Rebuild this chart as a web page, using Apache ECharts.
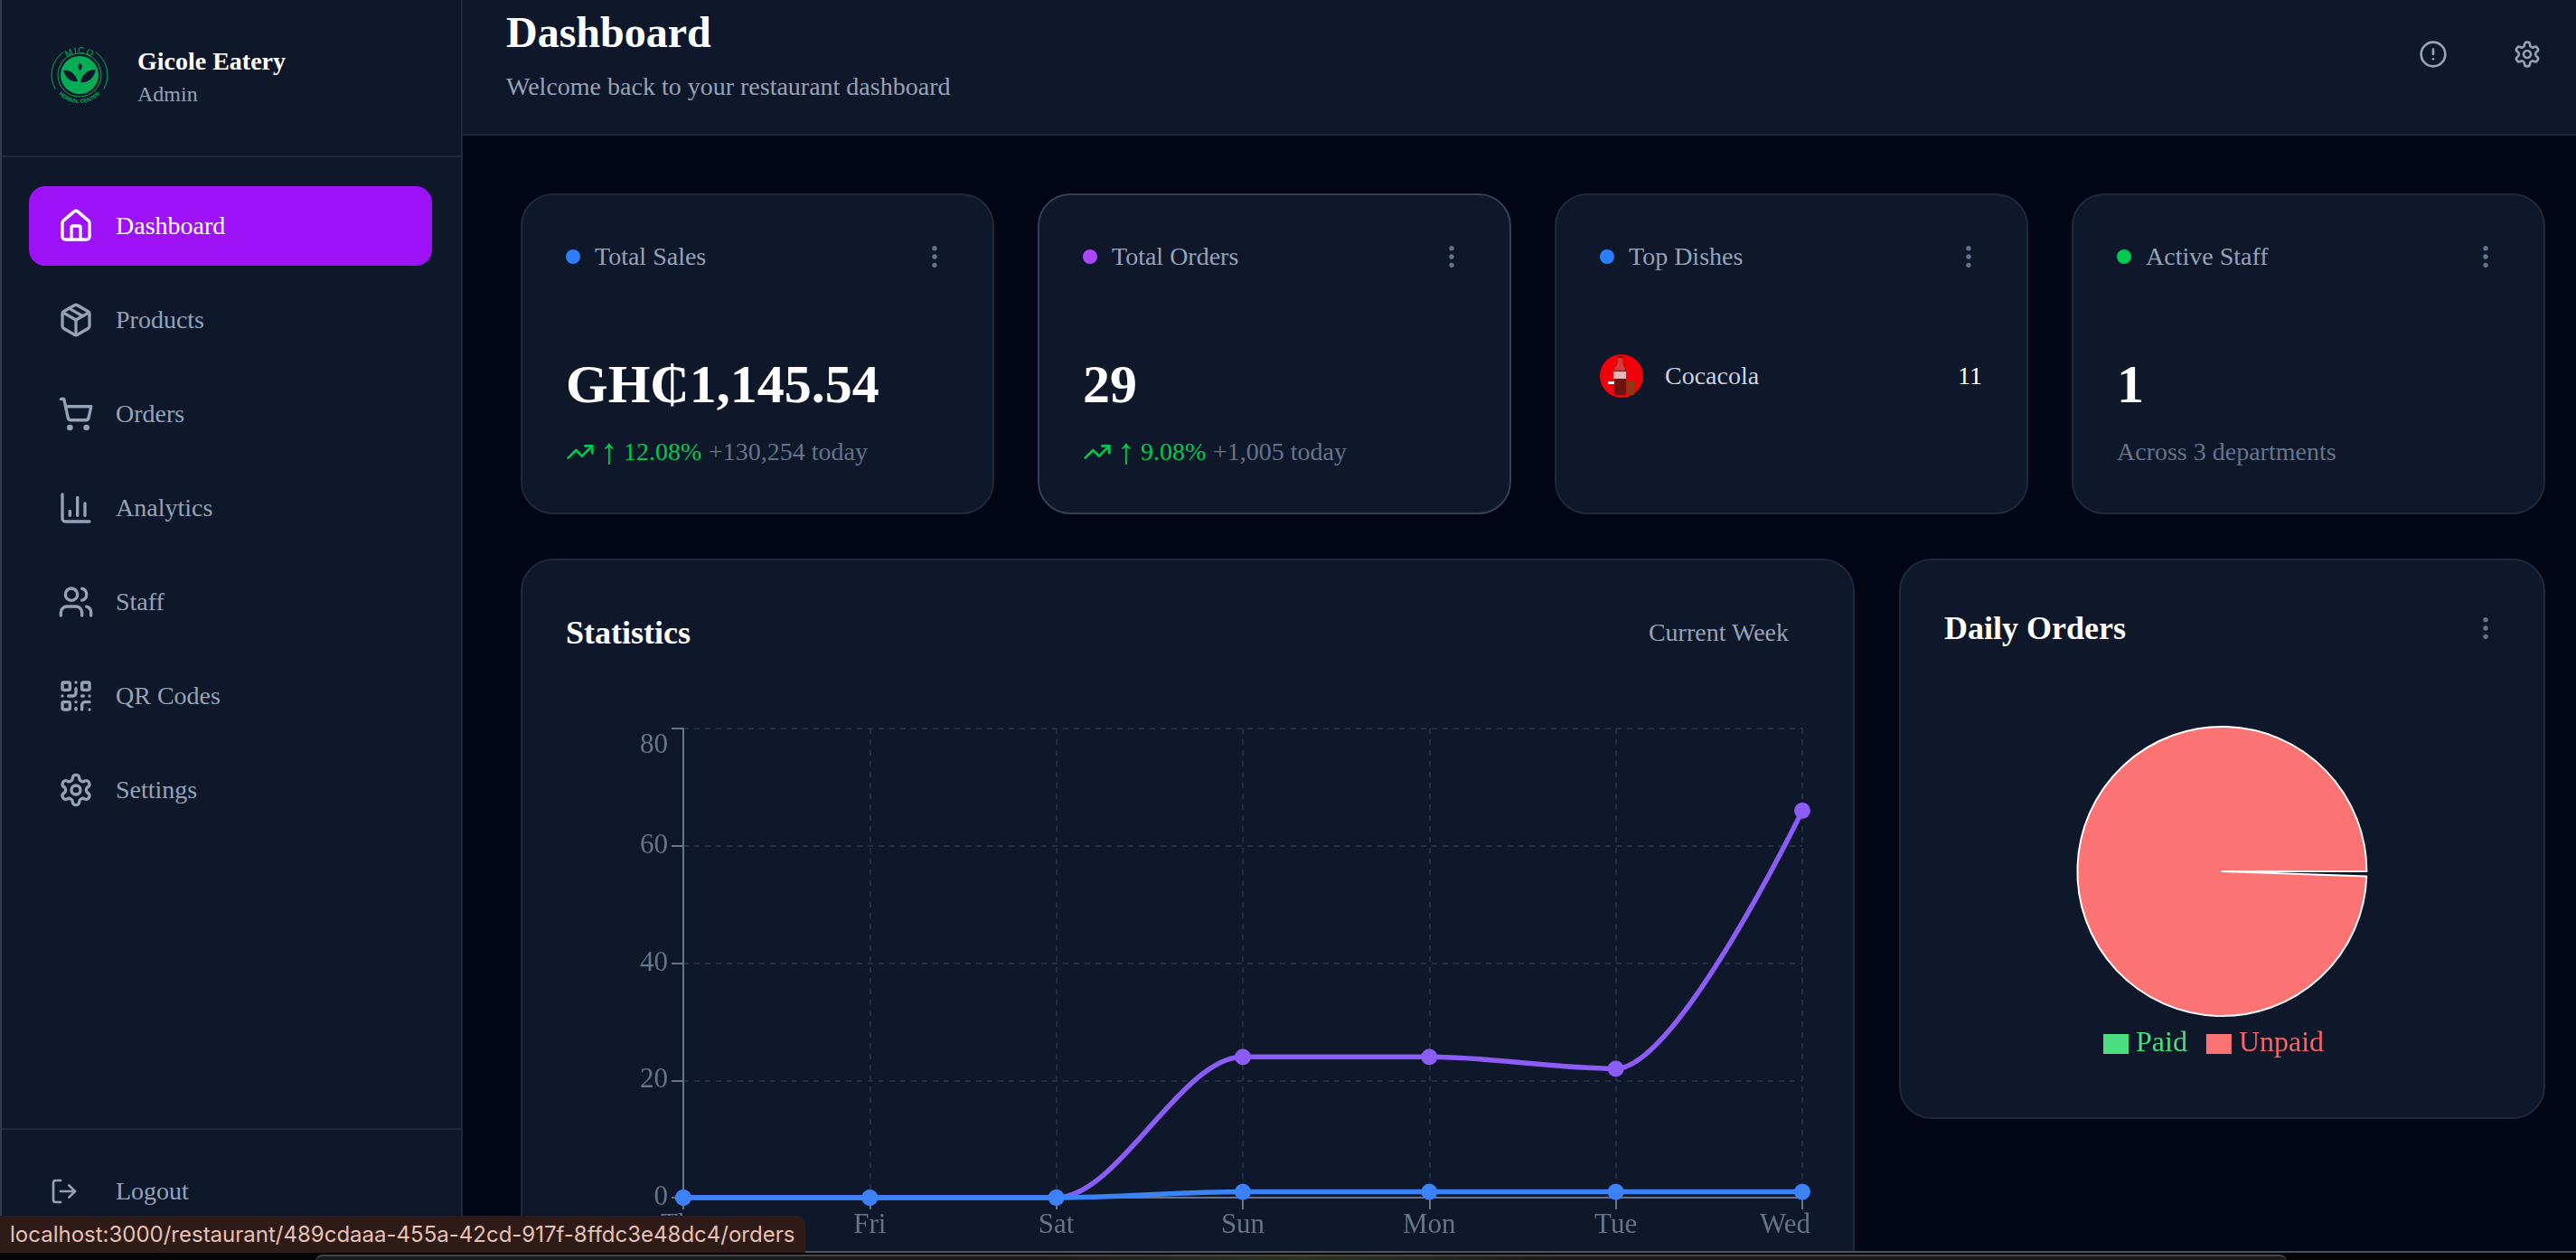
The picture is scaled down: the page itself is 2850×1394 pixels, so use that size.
<!DOCTYPE html>
<html>
<head>
<meta charset="utf-8">
<title>Dashboard</title>
<script src="https://cdn.jsdelivr.net/npm/echarts@6/dist/echarts.min.js"></script>
<style>
html, body { margin: 0; padding: 0; background: #050505; }
#page { position: absolute; left: 0; top: 0; width: 2850px; height: 1394px; overflow: hidden; background: #010516; font-family: 'Liberation Serif', serif; }
.box { position: absolute; box-sizing: border-box; }
.t { position: absolute; line-height: 0; white-space: nowrap; }
.ic { position: absolute; fill: none; stroke: currentColor; stroke-linecap: round; stroke-linejoin: round; stroke-width: 2; }
.side { left: 0; top: 0; width: 512px; height: 1394px; background: #0f172a; border-left: 2px solid #2d3b50; border-right: 2px solid #1e293b; }
.rule { position: absolute; left: 2px; width: 508px; height: 2px; background: #1e293b; }
.head { left: 512px; top: 0; width: 2338px; height: 150px; background: #0f172a; border-bottom: 2px solid #1e293b; }
.card { background: #0f172a; border: 2px solid #1e293b; border-radius: 36px; }
.nav { font-size: 28px; color: #94a3b8; left: 128px; }
.nav-ic { left: 64px; width: 40px; height: 40px; color: #94a3b8; }
.label { left: 80px; top: 68px; font-size: 28px; color: #94a3b8; }
.dot { position: absolute; left: 48px; top: 60px; width: 16px; height: 16px; border-radius: 50%; }
.kebab { left: 440px; top: 52px; width: 32px; height: 32px; color: #64748b; }
.big { left: 48px; top: 209px; font-size: 60px; font-weight: bold; color: #fff; }
.sub { top: 284px; font-size: 28px; }
.arrow { left: 86px; top: 284px; font-size: 40px; }
.trend { left: 48px; top: 268px; width: 32px; height: 32px; }
.green { color: #00c950; }
.gray { color: #64748b; }
</style>
</head>
<body>
<svg width="0" height="0" style="position:absolute">
  <symbol id="i-home" viewBox="0 0 24 24"><path d="M15 21v-8a1 1 0 0 0-1-1h-4a1 1 0 0 0-1 1v8"/><path d="M3 10a2 2 0 0 1 .709-1.528l7-5.999a2 2 0 0 1 2.582 0l7 5.999A2 2 0 0 1 21 10v9a2 2 0 0 1-2 2H5a2 2 0 0 1-2-2z"/></symbol>
  <symbol id="i-box" viewBox="0 0 24 24"><path d="M11 21.73a2 2 0 0 0 2 0l7-4A2 2 0 0 0 21 16V8a2 2 0 0 0-1-1.73l-7-4a2 2 0 0 0-2 0l-7 4A2 2 0 0 0 3 8v8a2 2 0 0 0 1 1.73z"/><path d="M12 22V12"/><path d="m3.3 7 8.7 5 8.7-5"/><path d="m7.5 4.27 9 5.15"/></symbol>
  <symbol id="i-cart" viewBox="0 0 24 24"><circle cx="8" cy="21" r="1"/><circle cx="19" cy="21" r="1"/><path d="M2.05 2.05h2l2.66 12.42a2 2 0 0 0 2 1.58h9.78a2 2 0 0 0 1.95-1.57l1.65-7.43H5.12"/></symbol>
  <symbol id="i-bars" viewBox="0 0 24 24"><path d="M3 3v16a2 2 0 0 0 2 2h16"/><path d="M18 17V9"/><path d="M13 17V5"/><path d="M8 17v-3"/></symbol>
  <symbol id="i-users" viewBox="0 0 24 24"><path d="M16 21v-2a4 4 0 0 0-4-4H6a4 4 0 0 0-4 4v2"/><circle cx="9" cy="7" r="4"/><path d="M22 21v-2a4 4 0 0 0-3-3.87"/><path d="M16 3.13a4 4 0 0 1 0 7.75"/></symbol>
  <symbol id="i-qr" viewBox="0 0 24 24"><rect width="5" height="5" x="3" y="3" rx="1"/><rect width="5" height="5" x="16" y="3" rx="1"/><rect width="5" height="5" x="3" y="16" rx="1"/><path d="M21 16h-3a2 2 0 0 0-2 2v3"/><path d="M21 21v.01"/><path d="M12 7v3a2 2 0 0 1-2 2H7"/><path d="M3 12h.01"/><path d="M12 3h.01"/><path d="M12 16v.01"/><path d="M16 12h1"/><path d="M21 12v.01"/><path d="M12 21v-1"/></symbol>
  <symbol id="i-gear" viewBox="0 0 24 24"><path d="M12.22 2h-.44a2 2 0 0 0-2 2v.18a2 2 0 0 1-1 1.73l-.43.25a2 2 0 0 1-2 0l-.15-.08a2 2 0 0 0-2.73.73l-.22.38a2 2 0 0 0 .73 2.73l.15.1a2 2 0 0 1 1 1.72v.51a2 2 0 0 1-1 1.74l-.15.09a2 2 0 0 0-.73 2.73l.22.38a2 2 0 0 0 2.73.73l.15-.08a2 2 0 0 1 2 0l.43.25a2 2 0 0 1 1 1.73V20a2 2 0 0 0 2 2h.44a2 2 0 0 0 2-2v-.18a2 2 0 0 1 1-1.73l.43-.25a2 2 0 0 1 2 0l.15.08a2 2 0 0 0 2.73-.73l.22-.39a2 2 0 0 0-.73-2.73l-.15-.08a2 2 0 0 1-1-1.74v-.5a2 2 0 0 1 1-1.74l.15-.09a2 2 0 0 0 .73-2.73l-.22-.38a2 2 0 0 0-2.73-.73l-.15.08a2 2 0 0 1-2 0l-.43-.25a2 2 0 0 1-1-1.73V4a2 2 0 0 0-2-2z"/><circle cx="12" cy="12" r="3"/></symbol>
  <symbol id="i-out" viewBox="0 0 24 24"><path d="M9 21H5a2 2 0 0 1-2-2V5a2 2 0 0 1 2-2h4"/><polyline points="16 17 21 12 16 7"/><line x1="21" x2="9" y1="12" y2="12"/></symbol>
  <symbol id="i-alert" viewBox="0 0 24 24"><circle cx="12" cy="12" r="10"/><line x1="12" x2="12" y1="8" y2="12"/><line x1="12" x2="12.01" y1="16" y2="16"/></symbol>
  <symbol id="i-more" viewBox="0 0 24 24"><circle cx="12" cy="12" r="1"/><circle cx="12" cy="5" r="1"/><circle cx="12" cy="19" r="1"/></symbol>
  <symbol id="i-trend" viewBox="0 0 24 24"><polyline points="22 7 13.5 15.5 8.5 10.5 2 17"/><polyline points="16 7 22 7 22 13"/></symbol>
</svg>

<div id="page">
  <div class="box head">
    <span class="t" style="left:48px;top:36px;font-size:48px;font-weight:bold;color:#fff">Dashboard</span>
    <span class="t" style="left:48px;top:96px;font-size:28px;color:#94a3b8">Welcome back to your restaurant dashboard</span>
    <svg class="ic" style="left:2164px;top:44px;width:32px;height:32px;color:#94a3b8"><use href="#i-alert"/></svg>
    <svg class="ic" style="left:2268px;top:44px;width:32px;height:32px;color:#94a3b8"><use href="#i-gear"/></svg>
  </div>

  <div class="box side"></div>
  <div class="rule" style="top:172px"></div>
  <div class="rule" style="top:1248px"></div>
  <svg style="position:absolute;left:54px;top:49px;width:68px;height:68px" viewBox="0 0 68 68">
    <defs>
      <path id="arc-top" d="M10 34a24 24 0 0 1 48 0"/>
      <path id="arc-bot" d="M3 34a31 31 0 0 0 62 0"/>
    </defs>
    <path d="M51.8 8.6A31 31 0 0 1 60.8 49.5M16.2 8.6A31 31 0 0 0 7.2 49.5" fill="none" stroke="#00ad55" stroke-width="1"/>
    <circle cx="34" cy="34" r="24" fill="none" stroke="#00ad55" stroke-width="1"/>
    <circle cx="34" cy="34" r="21" fill="#06ad55"/>
    <path d="M16 29c7-1 13 3 16 12-7 1-13-3-16-12zM52 28c-8 0-15 4-17 14 8 1 15-4 17-14zM34 21c3 1 4 4 1 8-3-2-3-5-1-8z" fill="#0f172a"/>
    <text font-size="10" fill="#00ad55" font-family="Liberation Sans" text-anchor="middle" letter-spacing="1"><textPath href="#arc-top" startOffset="50%">MICO</textPath></text>
    <text font-size="6" fill="#00ad55" font-family="Liberation Sans" font-weight="bold" text-anchor="middle"><textPath href="#arc-bot" startOffset="50%">HERBAL CENTER</textPath></text>
  </svg>
  <span class="t" style="left:152px;top:68px;font-size:28px;font-weight:bold;color:#fff">Gicole Eatery</span>
  <span class="t" style="left:152px;top:104px;font-size:24px;color:#94a3b8">Admin</span>

  <div class="box" style="left:32px;top:206px;width:446px;height:88px;border-radius:18px;background:#9d12f6"></div>
  <svg class="ic nav-ic" style="top:230px;color:#fff"><use href="#i-home"/></svg>
  <span class="t nav" style="top:250px;color:#fff">Dashboard</span>
  <svg class="ic nav-ic" style="top:334px"><use href="#i-box"/></svg>
  <span class="t nav" style="top:354px">Products</span>
  <svg class="ic nav-ic" style="top:438px"><use href="#i-cart"/></svg>
  <span class="t nav" style="top:458px">Orders</span>
  <svg class="ic nav-ic" style="top:542px"><use href="#i-bars"/></svg>
  <span class="t nav" style="top:562px">Analytics</span>
  <svg class="ic nav-ic" style="top:646px"><use href="#i-users"/></svg>
  <span class="t nav" style="top:666px">Staff</span>
  <svg class="ic nav-ic" style="top:750px"><use href="#i-qr"/></svg>
  <span class="t nav" style="top:770px">QR Codes</span>
  <svg class="ic nav-ic" style="top:854px"><use href="#i-gear"/></svg>
  <span class="t nav" style="top:874px">Settings</span>
  <svg class="ic nav-ic" style="top:1302px;left:55px;width:32px;height:32px"><use href="#i-out"/></svg>
  <span class="t nav" style="top:1318px">Logout</span>

  <div class="box card" style="left:576px;top:214px;width:524px;height:355px">
    <div class="dot" style="background:#2b7fff"></div>
    <span class="t label">Total Sales</span>
    <svg class="ic kebab"><use href="#i-more"/></svg>
    <span class="t big">GH₵1,145.54</span>
    <svg class="ic green trend"><use href="#i-trend"/></svg>
    <span class="t arrow green">↑</span>
    <span class="t sub green" style="left:112px">12.08%</span>
    <span class="t sub gray" style="left:206px">+130,254 today</span>
  </div>
  <div class="box card" style="left:1148px;top:214px;width:524px;height:355px;border-color:#334155">
    <div class="dot" style="background:#ad46ff"></div>
    <span class="t label">Total Orders</span>
    <svg class="ic kebab"><use href="#i-more"/></svg>
    <span class="t big">29</span>
    <svg class="ic green trend"><use href="#i-trend"/></svg>
    <span class="t arrow green">↑</span>
    <span class="t sub green" style="left:112px">9.08%</span>
    <span class="t sub gray" style="left:192px">+1,005 today</span>
  </div>
  <div class="box card" style="left:1720px;top:214px;width:524px;height:355px">
    <div class="dot" style="background:#2b7fff"></div>
    <span class="t label">Top Dishes</span>
    <svg class="ic kebab"><use href="#i-more"/></svg>
    <svg style="position:absolute;left:48px;top:176px;width:48px;height:48px" viewBox="0 0 48 48">
      <circle cx="24" cy="24" r="24" fill="#f20009"/>
      <path d="M21 2h4l1 8c3 4 3 6 3 10v22c0 2-1 3-3 3h-7c-2 0-3-1-3-3V20c0-4 1-6 3-10z" fill="#6e1410"/>
      <path d="M20 4h5l1 8c1 1 2 3 2 6H16c0-3 1-5 3-6z" fill="#d53a3c"/>
      <rect x="15" y="19" width="14" height="8" fill="#e8b6b6"/>
      <path d="M30 29h9l-1 16h-7z" fill="#8a3b10"/>
      <rect x="9" y="30" width="7" height="3" fill="#fff"/>
    </svg>
    <span class="t" style="left:120px;top:200px;font-size:28px;color:#cbd5e1">Cocacola</span>
    <span class="t" style="right:49px;top:200px;font-size:28px;color:#fff">11</span>
  </div>
  <div class="box card" style="left:2292px;top:214px;width:524px;height:355px">
    <div class="dot" style="background:#00c950"></div>
    <span class="t label">Active Staff</span>
    <svg class="ic kebab"><use href="#i-more"/></svg>
    <span class="t big">1</span>
    <span class="t sub gray" style="left:48px">Across 3 departments</span>
  </div>

  <div class="box card" style="left:576px;top:618px;width:1476px;height:900px"></div>
  <span class="t" style="left:626px;top:700px;font-size:36px;font-weight:bold;color:#fff">Statistics</span>
  <span class="t" style="right:871px;top:700px;font-size:28px;color:#94a3b8">Current Week</span>
  <div id="lineChart" style="position:absolute;left:576px;top:618px;width:1476px;height:767px"></div>

  <div class="box card" style="left:2101px;top:618px;width:715px;height:620px"></div>
  <span class="t" style="left:2151px;top:695px;font-size:36px;font-weight:bold;color:#fff">Daily Orders</span>
  <svg class="ic" style="left:2734px;top:679px;width:32px;height:32px;color:#64748b"><use href="#i-more"/></svg>
  <div id="pieChart" style="position:absolute;left:2102px;top:618px;width:714px;height:620px"></div>

  <div class="box" style="left:0;top:1384px;width:2850px;height:2px;background:#475569"></div>
  <div class="box" style="left:0;top:1386px;width:2850px;height:8px;background:#050505"></div>
  <div class="box" style="left:349px;top:1388px;width:2181px;height:8px;border-radius:14px 14px 0 0;border-top:2px solid #454545;background:radial-gradient(ellipse 300px 40px at 50% 0,#2a3325,#191a1a)"></div>
  <div class="box" style="left:0;top:1345px;width:891px;height:41px;background:#2e1a17;border-radius:0 10px 0 0"></div>
  <span class="t" style="left:11px;top:1366px;font-family:Inter,sans-serif;font-size:24px;color:#e6c1b5">localhost:3000/restaurant/489cdaaa-455a-42cd-917f-8ffdc3e48dc4/orders</span>
</div>

<script>
const days = ['Thu', 'Fri', 'Sat', 'Sun', 'Mon', 'Tue', 'Wed'];
const ordersSeries = [0, 0, 0, 24, 24, 22, 66];
const revenueSeries = [0, 0, 0, 1, 1, 1, 1];
const orderStatus = ['Paid', 'Unpaid'];
const orderStatusValues = [0, 29];

const serif = 'Liberation Serif';

const lineChart = echarts.init(document.getElementById('lineChart'));
lineChart.setOption({
    animation: false,
    tooltip: { trigger: 'axis' },
    grid: { left: 180, right: 58, top: 188, bottom: 60 },
    xAxis: {
        type: 'category',
        // the last label is pulled back inside the card
        data: days.map((value, i) => i === days.length - 1 ? { value, textStyle: { padding: [0, 38, 0, 0] } } : value),
        boundaryGap: false,
        axisLine: { lineStyle: { color: '#64748b', width: 2 } },
        axisTick: { alignWithLabel: true, length: 13, lineStyle: { color: '#64748b', width: 2 } },
        axisLabel: { color: '#64748b', fontFamily: serif, fontSize: 31, margin: 15, showMinLabel: true, showMaxLabel: true, interval: 0 },
        splitLine: { show: true, lineStyle: { color: '#232f42', width: 2, type: [6, 6] } }
    },
    yAxis: {
        type: 'value',
        min: 0,
        max: 80,
        interval: 20,
        axisLine: { show: true, lineStyle: { color: '#64748b', width: 2 } },
        axisTick: { show: true, length: 13, lineStyle: { color: '#64748b', width: 2 } },
        axisLabel: { color: '#64748b', fontFamily: serif, fontSize: 31, margin: 17, verticalAlignMaxLabel: 'top', padding: [3, 0, 0, 0] },
        splitLine: { show: true, lineStyle: { color: '#232f42', width: 2, type: [6, 6] } }
    },
    series: [
        {
            name: 'Orders',
            type: 'line',
            data: ordersSeries,
            smooth: 0.33,
            smoothMonotone: 'x',
            clip: false,
            showAllSymbol: true,
            symbol: 'circle',
            symbolSize: 18,
            itemStyle: { color: '#8b5cf6' },
            lineStyle: { color: '#8b5cf6', width: 5.5 }
        },
        {
            name: 'Revenue',
            type: 'line',
            data: revenueSeries,
            smooth: 0.33,
            smoothMonotone: 'x',
            clip: false,
            showAllSymbol: true,
            symbol: 'circle',
            symbolSize: 18,
            itemStyle: { color: '#3b82f6' },
            lineStyle: { color: '#3b82f6', width: 5.5 }
        }
    ]
});

const pieChart = echarts.init(document.getElementById('pieChart'));
pieChart.setOption({
    animation: false,
    color: ['#4ade80', '#fb7373'],
    legend: {
        left: 220,
        top: 516,
        icon: 'rect',
        itemWidth: 28,
        itemHeight: 22,
        itemGap: 21,
        itemStyle: { borderWidth: 0 },
        data: [
            { name: orderStatus[0], textStyle: { color: '#4ade80' } },
            { name: orderStatus[1], textStyle: { color: '#f56565' } }
        ],
        textStyle: { fontFamily: serif, fontSize: 32, padding: [0, 0, 0, 3] }
    },
    series: [{
        type: 'pie',
        center: [356.4, 346],
        radius: [0, 160],
        startAngle: -0.5,
        padAngle: 1,
        label: { show: false },
        labelLine: { show: false },
        itemStyle: { borderColor: '#fff', borderWidth: 2 },
        data: orderStatus.map((name, i) => ({
            name,
            value: orderStatusValues[i],
            itemStyle: i === 0 ? { borderWidth: 0 } : undefined
        }))
    }]
});
</script>
</body>
</html>
